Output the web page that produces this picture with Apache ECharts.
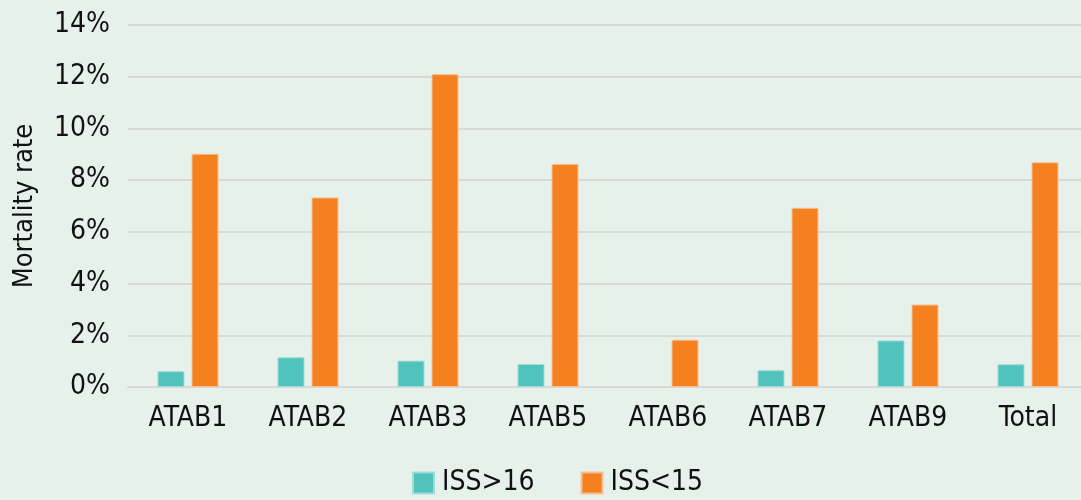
<!DOCTYPE html>
<html>
<head>
<meta charset="utf-8">
<script src="https://cdn.jsdelivr.net/npm/echarts@6/dist/echarts.min.js"></script>
<style>
html, body { margin: 0; padding: 0; background: #e7f1ec; }
#echart { width: 1081px; height: 500px; }
</style>
</head>
<body>
<div id="echart"></div>
<script>
// categories and mortality rates (%)
var categories = ['ATAB1', 'ATAB2', 'ATAB3', 'ATAB5', 'ATAB6', 'ATAB7', 'ATAB9', 'Total'];
var issHigh = [0.61, 1.15, 1.02, 0.89, 0, 0.65, 1.80, 0.88];
var issLow = [9.02, 7.33, 12.1, 8.63, 1.83, 6.93, 3.19, 8.69];
var seriesNames = ['ISS>16', 'ISS<15'];

var fontName = "'DejaVu Sans Condensed', 'Liberation Sans', sans-serif";
var myChart = echarts.init(document.getElementById('echart'));

// no border on empty bars so nothing shows at zero
function toData(list) {
    return list.map(function (v) {
        return v === 0 ? { value: v, itemStyle: { borderWidth: 0 } } : v;
    });
}

var option = {
    backgroundColor: '#e7f1ec',
    textStyle: { fontFamily: fontName },
    legend: {
        data: seriesNames,
        left: 407,
        top: 464,
        icon: 'rect',
        itemWidth: 21,
        itemHeight: 21,
        itemGap: 46,
        textStyle: { fontSize: 28, color: '#111', fontFamily: fontName, padding: [0, 0, 0, 3] }
    },
    grid: {
        left: 128,
        top: 25,
        width: 960,
        bottom: 113,
        outerBoundsMode: 'none'
    },
    xAxis: {
        type: 'category',
        data: categories,
        axisTick: { show: false },
        axisLine: { lineStyle: { color: '#d8d9d7', width: 2 } },
        axisLabel: { fontSize: 28, color: '#111', margin: 18, fontFamily: fontName }
    },
    yAxis: {
        type: 'value',
        min: 0,
        max: 14,
        interval: 2,
        name: 'Mortality rate',
        nameLocation: 'middle',
        nameGap: 90,
        nameTextStyle: { fontSize: 27, color: '#111', fontFamily: fontName },
        axisLine: { show: false },
        axisTick: { show: false },
        axisLabel: { formatter: '{value}%', fontSize: 28, color: '#111', margin: 18, fontFamily: fontName },
        splitLine: { lineStyle: { color: '#d8d9d7', width: 2 } }
    },
    series: [
        {
            name: seriesNames[0],
            type: 'bar',
            data: toData(issHigh),
            barWidth: 27,
            barGap: '26%',
            itemStyle: { color: '#50c3bd', borderColor: '#9fdcd7', borderWidth: 1 }
        },
        {
            name: seriesNames[1],
            type: 'bar',
            data: toData(issLow),
            barWidth: 27,
            itemStyle: { color: '#f58020', borderColor: '#f8c090', borderWidth: 1 }
        }
    ]
};
myChart.setOption(option);
</script>
</body>
</html>
